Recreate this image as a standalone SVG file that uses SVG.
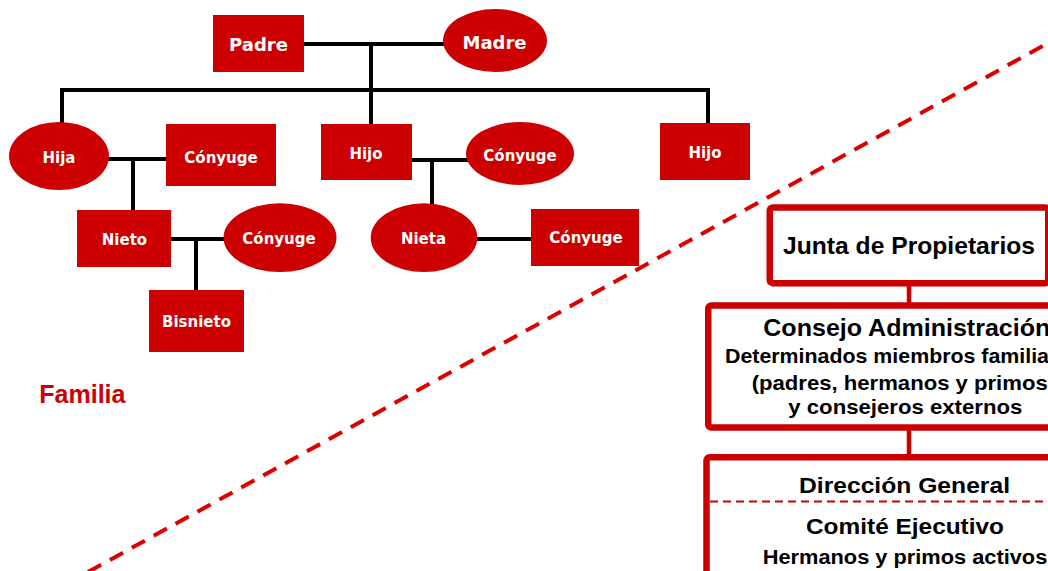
<svg xmlns="http://www.w3.org/2000/svg" width="1048" height="571" viewBox="0 0 1048 571">
<defs>
<style>
.nd{fill:#CC0000;}
.nt{fill:#fff;font-family:"DejaVu Sans",Verdana,sans-serif;font-weight:bold;font-size:15px;text-anchor:middle;}
.big{font-size:18px;}
.ln{stroke:#000;stroke-width:4;fill:none;stroke-linecap:square;}
.box{fill:#fff;stroke:#CC0000;stroke-width:6.5;}
.rc{stroke:#CC0000;stroke-width:4.5;fill:none;}
.ot{fill:#000;font-family:"Liberation Sans",Arial,sans-serif;font-weight:bold;}
</style>
</defs>
<rect width="1048" height="571" fill="#fff"/>
<g id="connectors">
<path class="ln" d="M304 44H443 M371 44V124 M62 122V90H708V123 M109 159H166 M133 159V210 M412 160H466 M432 160V203 M171 239H224 M196 239V290 M477 239H531"/>
<path class="rc" d="M909 286V303 M909 430V454"/>
</g>
<g id="padre"><rect class="nd" x="213" y="15" width="91" height="57"/><text class="nt big" x="258.5" y="50.5">Padre</text></g>
<g id="madre"><ellipse class="nd" cx="495" cy="40.5" rx="52" ry="31.5"/><text class="nt big" x="494.5" y="49">Madre</text></g>
<g id="hija"><ellipse class="nd" cx="59" cy="156" rx="50" ry="34"/><text class="nt" x="59" y="162.5">Hija</text></g>
<g id="conyuge1"><rect class="nd" x="166" y="124" width="110" height="62"/><text class="nt" x="221" y="162.5">Cónyuge</text></g>
<g id="hijo1"><rect class="nd" x="321" y="124" width="91" height="56"/><text class="nt" x="366" y="158.5">Hijo</text></g>
<g id="conyuge2"><ellipse class="nd" cx="520" cy="153.5" rx="54" ry="31.5"/><text class="nt" x="520" y="160.5">Cónyuge</text></g>
<g id="hijo2"><rect class="nd" x="660" y="123" width="90" height="57"/><text class="nt" x="705" y="157.5">Hijo</text></g>
<g id="nieto"><rect class="nd" x="77" y="210" width="94" height="57"/><text class="nt" x="124.5" y="245">Nieto</text></g>
<g id="conyuge3"><ellipse class="nd" cx="280" cy="237.7" rx="56.5" ry="34.4"/><text class="nt" x="279" y="244">Cónyuge</text></g>
<g id="bisnieto"><rect class="nd" x="149" y="290" width="95" height="62"/><text class="nt" x="196.5" y="326.5">Bisnieto</text></g>
<g id="nieta"><ellipse class="nd" cx="424" cy="237.7" rx="53.3" ry="34.4"/><text class="nt" x="423.5" y="244">Nieta</text></g>
<g id="conyuge4"><rect class="nd" x="531" y="209" width="108" height="57"/><text class="nt" x="586" y="242.5">Cónyuge</text></g>
<text x="39.3" y="402.5" fill="#CC0000" font-family="'Liberation Sans',Arial,sans-serif" font-weight="bold" font-size="25">Familia</text>
<line id="divider" x1="88" y1="572" x2="1050" y2="42" stroke="#DD0000" stroke-width="4" stroke-dasharray="15 10"/>
<g id="junta"><rect class="box" x="769.75" y="207.5" width="278.5" height="75.7" rx="3"/><text class="ot" x="909" y="254" font-size="24" text-anchor="middle" textLength="252" lengthAdjust="spacingAndGlyphs">Junta de Propietarios</text></g>
<g id="consejo"><rect class="box" x="708.25" y="305.5" width="401.5" height="122" rx="3"/>
<text class="ot" x="763.3" y="336" font-size="23" textLength="287" lengthAdjust="spacingAndGlyphs">Consejo Administración</text>
<text class="ot" x="725" y="363.3" font-size="21" textLength="324" lengthAdjust="spacingAndGlyphs">Determinados miembros familia</text>
<text class="ot" x="751.7" y="389.5" font-size="21" textLength="296" lengthAdjust="spacingAndGlyphs">(padres, hermanos y primos</text>
<text class="ot" x="788.3" y="413.5" font-size="21" textLength="234" lengthAdjust="spacingAndGlyphs">y consejeros externos</text></g>
<g id="direccion"><rect class="box" x="706.5" y="457.3" width="405" height="200" rx="3"/>
<line x1="710" y1="501.5" x2="1048" y2="501.5" stroke="#CC0000" stroke-width="2" stroke-dasharray="8 5"/>
<text class="ot" x="799" y="493.3" font-size="22" textLength="211" lengthAdjust="spacingAndGlyphs">Dirección General</text>
<text class="ot" x="806" y="534" font-size="22" textLength="198" lengthAdjust="spacingAndGlyphs">Comité Ejecutivo</text>
<text class="ot" x="762.7" y="564" font-size="20" textLength="284.6" lengthAdjust="spacingAndGlyphs">Hermanos y primos activos</text></g>
</svg>
